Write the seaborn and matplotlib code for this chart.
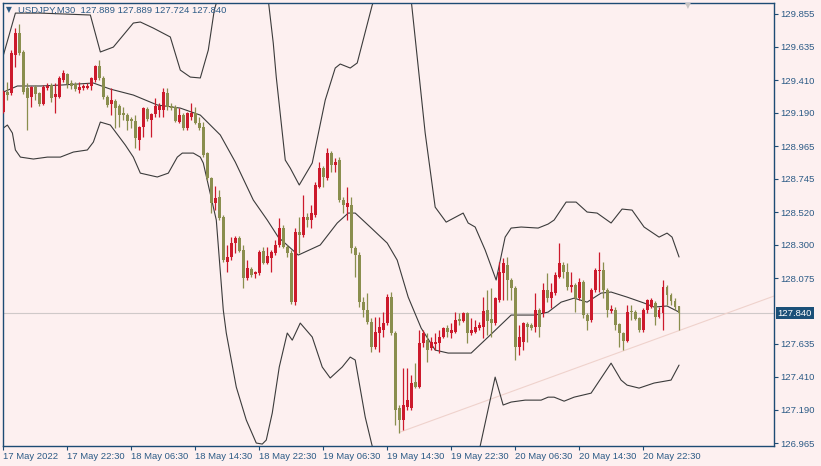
import numpy as np
import pandas as pd
import matplotlib
matplotlib.use("Agg")
import matplotlib.pyplot as plt
import matplotlib.transforms as mtransforms
import seaborn as sns

# USDJPY M30 candles (bar 0 = 17 May 2022 14:30)
opens = [129.194, 129.329, 129.322, 129.578, 129.727, 129.599, 129.356, 129.296, 129.363, 129.322,
         129.248, 129.356, 129.376, 129.296, 129.296, 129.410, 129.450, 129.390, 129.383, 129.343,
         129.356, 129.356, 129.370, 129.410, 129.504, 129.424, 129.296, 129.248, 129.269, 129.235,
         129.188, 129.174, 129.147, 129.134, 129.006, 129.093, 129.215, 129.141, 129.181, 129.208,
         129.208, 129.322, 129.235, 129.228, 129.127, 129.174, 129.087, 129.161, 129.188, 129.120,
         129.093, 128.918, 128.750, 128.581, 128.622, 128.487, 128.184, 128.218, 128.312, 128.346,
         128.265, 128.076, 128.137, 128.103, 128.110, 128.258, 128.177, 128.211, 128.245, 128.299,
         128.413, 128.285, 128.245, 127.914, 128.386, 128.366, 128.487, 128.467, 128.501, 128.689,
         128.817, 128.750, 128.918, 128.837, 128.871, 128.602, 128.554, 128.568, 128.278, 128.231,
         127.914, 127.861, 127.780, 127.611, 127.706, 127.726, 127.773, 127.948, 127.706, 127.200,
         127.120, 127.207, 127.200, 127.375, 127.342, 127.638, 127.658, 127.605, 127.632, 127.638,
         127.679, 127.739, 127.706, 127.712, 127.800, 127.786, 127.840, 127.706, 127.712, 127.739,
         127.746, 127.861, 127.800, 127.773, 127.928, 128.110, 128.164, 128.063, 128.009, 127.611,
         127.645, 127.766, 127.760, 127.746, 127.861, 127.840, 127.995, 127.941, 127.975, 128.083,
         128.164, 128.117, 128.015, 128.029, 127.941, 128.049, 127.827, 127.793, 127.995, 128.123,
         128.130, 127.995, 127.854, 127.861, 127.766, 127.706, 127.652, 127.854, 127.847, 127.807,
         127.726, 127.861, 127.881, 127.908, 127.813, 127.840, 128.015, 127.962, 127.921, 127.889]
highs = [129.343, 129.397, 129.612, 129.760, 129.787, 129.612, 129.390, 129.370, 129.376, 129.329,
         129.376, 129.390, 129.390, 129.390, 129.437, 129.477, 129.457, 129.410, 129.397, 129.397,
         129.383, 129.390, 129.430, 129.511, 129.545, 129.437, 129.309, 129.356, 129.282, 129.248,
         129.228, 129.188, 129.161, 129.174, 129.100, 129.228, 129.228, 129.188, 129.289, 129.255,
         129.356, 129.356, 129.255, 129.242, 129.221, 129.188, 129.194, 129.255, 129.228, 129.161,
         129.127, 128.925, 128.757, 128.696, 128.669, 128.501, 128.299, 128.352, 128.359, 128.359,
         128.299, 128.197, 128.150, 128.123, 128.265, 128.285, 128.285, 128.265, 128.332, 128.480,
         128.433, 128.299, 128.265, 128.413, 128.487, 128.635, 128.514, 128.568, 128.723, 128.858,
         128.831, 128.952, 128.932, 128.884, 128.891, 128.622, 128.689, 128.622, 128.292, 128.251,
         127.948, 127.975, 127.807, 127.813, 127.813, 127.847, 127.968, 127.982, 127.719, 127.221,
         127.470, 127.470, 127.423, 127.503, 127.726, 127.726, 127.706, 127.679, 127.706, 127.726,
         127.746, 127.760, 127.773, 127.847, 127.840, 127.847, 127.847, 127.807, 127.793, 127.780,
         127.948, 127.995, 128.009, 127.948, 128.184, 128.211, 128.218, 128.076, 128.022, 127.760,
         127.780, 127.780, 127.773, 127.975, 127.874, 128.042, 128.110, 128.042, 128.117, 128.312,
         128.184, 128.177, 128.117, 128.042, 128.076, 128.063, 127.840, 128.009, 128.143, 128.251,
         128.184, 128.009, 127.894, 127.881, 127.773, 127.712, 127.894, 127.894, 127.861, 127.813,
         127.874, 127.935, 127.941, 127.921, 127.881, 128.063, 128.029, 127.975, 127.941, 127.889]
lows = [129.188, 129.275, 129.309, 129.498, 129.578, 129.316, 129.073, 129.228, 129.275, 129.235,
        129.242, 129.343, 129.262, 129.188, 129.289, 129.397, 129.356, 129.349, 129.336, 129.322,
        129.343, 129.349, 129.343, 129.397, 129.410, 129.282, 129.228, 129.174, 129.087, 129.093,
        129.141, 129.073, 129.087, 128.952, 128.939, 129.026, 129.134, 129.026, 129.161, 129.161,
        129.161, 129.208, 129.208, 129.127, 129.120, 129.073, 129.073, 129.141, 129.114, 129.073,
        128.891, 128.736, 128.514, 128.534, 128.467, 128.184, 128.117, 128.197, 128.245, 128.251,
        128.009, 128.063, 128.083, 128.076, 128.096, 128.170, 128.170, 128.117, 128.231, 128.285,
        128.278, 128.218, 127.901, 127.894, 128.245, 128.352, 128.420, 128.413, 128.487, 128.682,
        128.689, 128.736, 128.790, 128.790, 128.588, 128.514, 128.467, 128.245, 128.083, 127.881,
        127.813, 127.766, 127.578, 127.598, 127.578, 127.679, 127.760, 127.692, 127.086, 127.032,
        127.052, 127.187, 127.187, 127.335, 127.335, 127.611, 127.510, 127.591, 127.591, 127.571,
        127.672, 127.679, 127.672, 127.706, 127.760, 127.780, 127.638, 127.692, 127.706, 127.726,
        127.672, 127.692, 127.679, 127.760, 127.914, 127.928, 127.928, 127.928, 127.524, 127.557,
        127.591, 127.645, 127.726, 127.712, 127.679, 127.813, 127.914, 127.874, 127.962, 128.076,
        128.076, 127.995, 127.982, 127.847, 127.928, 127.807, 127.726, 127.780, 127.982, 127.982,
        127.941, 127.813, 127.840, 127.726, 127.611, 127.591, 127.645, 127.793, 127.793, 127.712,
        127.712, 127.840, 127.874, 127.760, 127.807, 127.726, 127.894, 127.894, 127.861, 127.724]
closes = [129.329, 129.309, 129.592, 129.727, 129.592, 129.329, 129.289, 129.363, 129.316, 129.248,
          129.363, 129.370, 129.289, 129.316, 129.424, 129.457, 129.383, 129.370, 129.349, 129.363,
          129.370, 129.370, 129.424, 129.504, 129.424, 129.296, 129.242, 129.275, 129.221, 129.174,
          129.174, 129.134, 129.134, 129.019, 129.093, 129.221, 129.147, 129.181, 129.235, 129.235,
          129.329, 129.228, 129.221, 129.134, 129.174, 129.087, 129.188, 129.188, 129.120, 129.087,
          128.905, 128.750, 128.581, 128.615, 128.480, 128.197, 128.218, 128.312, 128.346, 128.258,
          128.076, 128.143, 128.096, 128.117, 128.251, 128.177, 128.224, 128.251, 128.299, 128.413,
          128.285, 128.245, 127.914, 128.386, 128.366, 128.487, 128.467, 128.514, 128.703, 128.817,
          128.757, 128.918, 128.837, 128.858, 128.602, 128.568, 128.581, 128.278, 128.231, 127.914,
          127.861, 127.780, 127.611, 127.712, 127.746, 127.773, 127.948, 127.706, 127.187, 127.120,
          127.221, 127.254, 127.369, 127.342, 127.638, 127.706, 127.591, 127.645, 127.645, 127.679,
          127.739, 127.712, 127.726, 127.793, 127.786, 127.840, 127.706, 127.726, 127.746, 127.760,
          127.854, 127.786, 127.773, 127.941, 128.117, 128.177, 128.063, 128.009, 127.611, 127.679,
          127.773, 127.746, 127.739, 127.861, 127.746, 127.995, 127.941, 127.982, 128.096, 128.177,
          128.117, 128.015, 128.029, 127.941, 128.049, 127.827, 127.786, 127.995, 128.130, 128.130,
          127.995, 127.861, 127.867, 127.760, 127.706, 127.652, 127.847, 127.847, 127.800, 127.726,
          127.861, 127.928, 127.928, 127.813, 127.861, 128.015, 127.962, 127.921, 127.881, 127.840]

# Bollinger bands (position in bars, price)
mid_bars = [0, 3.5, 9.25, 14.25, 22.5, 26.75, 32.5, 38.5, 44.25, 49.25,
            54.25, 58, 62.5, 66, 68.75, 73.75, 79.25, 83.5, 86.25, 88,
            91.75, 96, 98.5, 101.25, 104.5, 108, 111.25, 117, 121.25, 127,
            133, 136.25, 139.5, 142.75, 146, 149.5, 152, 156, 160.25, 162.75,
            166, 169]
mid_vals = [129.329, 129.370, 129.370, 129.376, 129.390, 129.349, 129.309, 129.242, 129.221, 129.174,
            129.040, 128.858, 128.602, 128.467, 128.352, 128.231, 128.299, 128.447, 128.514, 128.514,
            128.420, 128.312, 128.197, 127.948, 127.739, 127.591, 127.571, 127.571, 127.679, 127.827,
            127.827, 127.847, 127.914, 127.941, 127.914, 127.975, 127.982, 127.948, 127.908, 127.881,
            127.888, 127.847]
up_bars = [0, 3, 9.25, 21.75, 24.25, 27.5, 32.5, 34.25, 37.5, 41.75,
           44.25, 46.75, 49.25, 51.25, 52.75, 53.5, 59.75, 66.25, 67.5, 68.25,
           70.5, 71.75, 74, 77.25, 80.5, 83, 84.25, 86.75, 88.5, 92.25,
           92.75, 97.25, 102, 105.5, 108, 110.75, 115, 116.25, 118, 120.5,
           123.25, 125.5, 127, 129.5, 133.75, 136.25, 137.75, 140.75, 143.25, 146,
           148.5, 152, 154.75, 157.25, 160.25, 164, 166, 167.25, 169]
up_vals = [129.578, 129.861, 129.861, 129.848, 129.599, 129.632, 129.794, 129.801, 129.760, 129.700,
           129.477, 129.430, 129.424, 129.612, 129.882, 129.949, 130.960, 129.949, 129.659, 129.430,
           128.871, 128.817, 128.703, 128.851, 129.275, 129.491, 129.518, 129.491, 129.525, 129.915,
           129.949, 130.350, 129.949, 129.053, 128.554, 128.453, 128.514, 128.447, 128.420, 128.265,
           128.063, 128.352, 128.413, 128.420, 128.413, 128.440, 128.467, 128.588, 128.588, 128.521,
           128.514, 128.447, 128.541, 128.534, 128.420, 128.352, 128.379, 128.352, 128.218]
low_bars = [0, 1, 2.25, 3, 4.25, 7.5, 11, 14.25, 17.5, 21,
            22.5, 24.25, 26.75, 30.5, 32.5, 34.25, 38.5, 41.25, 43.5, 44.75,
            47.5, 49.25, 50, 51.25, 53.25, 55, 55.75, 58.25, 60.75, 63.25,
            64.75, 65.75, 67.25, 69, 71, 72.25, 74.25, 77.25, 79.75, 81.75,
            84.75, 86.75, 88, 90.5, 92.25, 105.75, 119.25, 121.75, 123, 125,
            127, 130.5, 134.5, 136.25, 137.75, 140.25, 142.75, 147, 152, 154.5,
            156, 159, 162.75, 167, 169]
low_vals = [129.087, 129.107, 129.053, 128.939, 128.891, 128.878, 128.891, 128.891, 128.925, 128.939,
            128.992, 129.127, 129.107, 128.972, 128.891, 128.783, 128.757, 128.783, 128.891, 128.918,
            128.918, 128.891, 128.851, 128.703, 128.467, 127.861, 127.706, 127.342, 127.120, 126.965,
            126.958, 126.985, 127.167, 127.477, 127.706, 127.658, 127.773, 127.679, 127.477, 127.403,
            127.477, 127.544, 127.524, 127.140, 126.944, 125.900, 126.944, 127.254, 127.409, 127.221,
            127.241, 127.254, 127.254, 127.274, 127.274, 127.247, 127.274, 127.301, 127.503, 127.389,
            127.355, 127.335, 127.369, 127.389, 127.490]

trend_bars = [99.25, 192.75]
trend_vals = [127.039, 127.955]

x_tick_bars = [0, 16, 32, 48, 64, 80, 96, 112, 128, 144, 160]
x_tick_labels = ["17 May 2022", "17 May 22:30", "18 May 06:30", "18 May 14:30", "18 May 22:30",
                 "19 May 06:30", "19 May 14:30", "19 May 22:30", "20 May 06:30", "20 May 14:30",
                 "20 May 22:30"]
y_ticks = [129.855, 129.635, 129.410, 129.190, 128.965, 128.745, 128.520, 128.300, 128.075,
           127.635, 127.410, 127.190, 126.965]
last_price = 127.840
header = "USDJPY,M30  127.889 127.889 127.724 127.840"

BG = "#fdf0f0"
UP = "#cc1a2c"
DOWN = "#8a8e4e"
FRAME = "#1d4b74"
TEXT = "#2c5b86"

sns.set_style("white", {"axes.facecolor": BG, "figure.facecolor": BG})
plt.rcParams["font.family"] = ["Liberation Sans", "DejaVu Sans"]

candles = pd.DataFrame({"open": opens, "high": highs, "low": lows, "close": closes})
candles["bar"] = np.arange(len(candles))
candles["color"] = np.where(candles["close"] >= candles["open"], UP, DOWN)
candles["bottom"] = candles[["open", "close"]].min(axis=1)
candles["height"] = (candles["close"] - candles["open"]).abs().clip(lower=0.005)

bands = pd.concat([
    pd.DataFrame({"bar": up_bars, "price": up_vals, "band": "upper"}),
    pd.DataFrame({"bar": mid_bars, "price": mid_vals, "band": "middle"}),
    pd.DataFrame({"bar": low_bars, "price": low_vals, "band": "lower"}),
])

fig = plt.figure(figsize=(8.21, 4.66), dpi=100)
ax = fig.add_axes([3 / 821, 20 / 466, 771 / 821, 443 / 466])

ax.axhline(last_price, color="#cfc9c9", lw=0.8, zorder=1)
ax.plot(trend_bars, trend_vals, color="#efd2cc", lw=0.8, zorder=1)

sns.lineplot(data=bands, x="bar", y="price", units="band", estimator=None, sort=False,
             color="#3b3b3b", linewidth=0.8, legend=False, ax=ax, zorder=2)

ax.vlines(candles["bar"], candles["low"], candles["high"], colors=candles["color"], lw=0.9, zorder=3)
ax.bar(candles["bar"], candles["height"], bottom=candles["bottom"], width=0.72,
       color=candles["color"], linewidth=0, zorder=4)

ax.set_xlim(-0.1, 192.75)
ax.set_ylim(126.945, 129.929)
ax.set_xlabel("")
ax.set_ylabel("")

ax.yaxis.tick_right()
ax.set_yticks(y_ticks)
ax.set_yticklabels([f"{v:.3f}" for v in y_ticks])
ax.set_xticks(x_tick_bars)
ax.set_xticklabels(x_tick_labels)
for lab in ax.get_xticklabels():
    lab.set_ha("left")
ax.tick_params(axis="both", direction="out", length=3, width=0.8, color=FRAME,
               labelcolor=TEXT, labelsize=6.8, pad=1.5)
ax.tick_params(axis="y", right=True, left=False)
ax.tick_params(axis="x", bottom=True)
for sp in ax.spines.values():
    sp.set_visible(True)
    sp.set_color(FRAME)
    sp.set_linewidth(1.0)

# current price tag on the right scale
ax.annotate(f"{last_price:.3f}", xy=(1, last_price), xycoords=("axes fraction", "data"),
            xytext=(2.5, 0), textcoords="offset points", ha="left", va="center",
            fontsize=6.8, color="white", annotation_clip=False,
            bbox=dict(boxstyle="square,pad=0.18", fc="#1b5078", ec="none"))

fig.text(6 / 821, 1 - 10 / 466, "\u25bc", fontsize=5.5, color=TEXT, va="center", ha="left",
         family=["DejaVu Sans"])
fig.text(18 / 821, 1 - 10 / 466, header, fontsize=6.8, color=TEXT, va="center", ha="left")
fig.text(688 / 821, 1 - 6 / 466, "\u25bc", fontsize=5.5, color="#c8c4c4", va="center", ha="center",
         family=["DejaVu Sans"])

fig.savefig("out.png", dpi=100, facecolor=BG)
